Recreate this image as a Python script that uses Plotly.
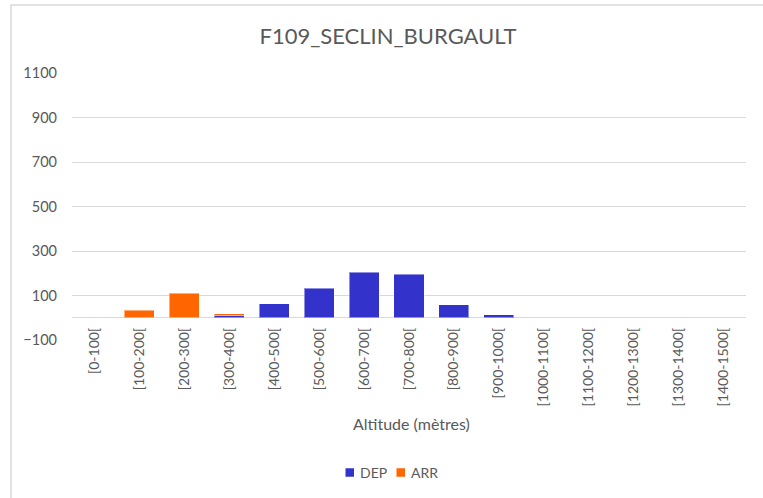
import plotly.graph_objects as go

# Altitude bands and flight counts per band
categories = ["[0-100[", "[100-200[", "[200-300[", "[300-400[", "[400-500[",
              "[500-600[", "[600-700[", "[700-800[", "[800-900[", "[900-1000[",
              "[1000-1100[", "[1100-1200[", "[1200-1300[", "[1300-1400[", "[1400-1500["]
dep = [0, 0, 0, 12, 63, 133, 204, 196, 58, 13, 0, 0, 0, 0, 0]
arr = [0, 33, 110, 5, 0, 0, 0, 0, 0, 0, 0, 0, 0, 0, 0]
y_ticks = [-100, 100, 300, 500, 700, 900, 1100]

FONT = "Lato"
GREY = "#595959"
GRID = "#d9d9d9"
DEP_COLOR = "#3333cc"
ARR_COLOR = "#ff6600"

# plot-area geometry in pixels
L, R, T, B = 72, 746, 73, 340
W, H = R - L, B - T


def px_x(x):
    return (x - L) / W


def px_y(y):
    return (B - y) / H


def edge_widths(values):
    # no outline on empty bars so nothing shows at zero
    return [1 if v else 0 for v in values]


fig = go.Figure()
fig.add_trace(go.Bar(
    x=categories, y=dep, name="DEP",
    marker=dict(color=DEP_COLOR,
                line=dict(color="rgba(255,255,255,0.45)", width=edge_widths(dep))),
))
fig.add_trace(go.Bar(
    x=categories, y=arr, name="ARR",
    marker=dict(color=ARR_COLOR,
                line=dict(color="rgba(255,255,255,0.45)", width=edge_widths(arr))),
))

# legend drawn as square swatches with labels
legend_items = [("DEP", DEP_COLOR, 345.5), ("ARR", ARR_COLOR, 396.5)]
legend_y = 472.5
shapes = [dict(
    type="rect", xref="paper", yref="paper", layer="below",
    x0=px_x(11), x1=px_x(800), y0=px_y(540), y1=px_y(5),
    line=dict(color=GRID, width=1.5),
)]
annotations = [dict(
    text="Altitude (mètres)", xref="paper", yref="paper",
    x=px_x(411), y=px_y(424), xanchor="center", yanchor="middle",
    showarrow=False, font=dict(family=FONT, size=16, color=GREY),
)]
for label, color, x0 in legend_items:
    shapes.append(dict(
        type="rect", xref="paper", yref="paper",
        x0=px_x(x0), x1=px_x(x0 + 8.5), y0=px_y(legend_y + 4.25), y1=px_y(legend_y - 4.25),
        fillcolor=color, line=dict(width=0),
    ))
    annotations.append(dict(
        text=label, xref="paper", yref="paper",
        x=px_x(x0 + 12.5), y=px_y(legend_y), xanchor="left", yanchor="middle",
        showarrow=False, font=dict(family=FONT, size=14, color=GREY),
    ))

fig.update_layout(
    width=763, height=498,
    barmode="stack", bargap=0.33,
    paper_bgcolor="white", plot_bgcolor="white",
    margin=dict(l=L, r=763 - R, t=T, b=498 - B),
    title=dict(text="F109_SECLIN_BURGAULT", x=388 / 763, y=1 - 36 / 498,
               xanchor="center", yanchor="middle",
               font=dict(family=FONT, size=22, color=GREY)),
    font=dict(family=FONT, color=GREY),
    showlegend=False,
    xaxis=dict(
        type="category", tickangle=-90, showgrid=False, showline=False,
        ticks="", ticklabelstandoff=-16,
        tickfont=dict(family=FONT, size=14, color=GREY),
    ),
    yaxis=dict(
        range=[-100, 1100], tickvals=y_ticks, showgrid=True, gridcolor=GRID, gridwidth=1,
        zeroline=True, zerolinecolor=GRID, zerolinewidth=1, showline=False,
        ticks="", ticklabelstandoff=14,
        tickfont=dict(family=FONT, size=14.5, color=GREY),
    ),
    annotations=annotations,
    shapes=shapes,
)

fig.write_html("out.html")
